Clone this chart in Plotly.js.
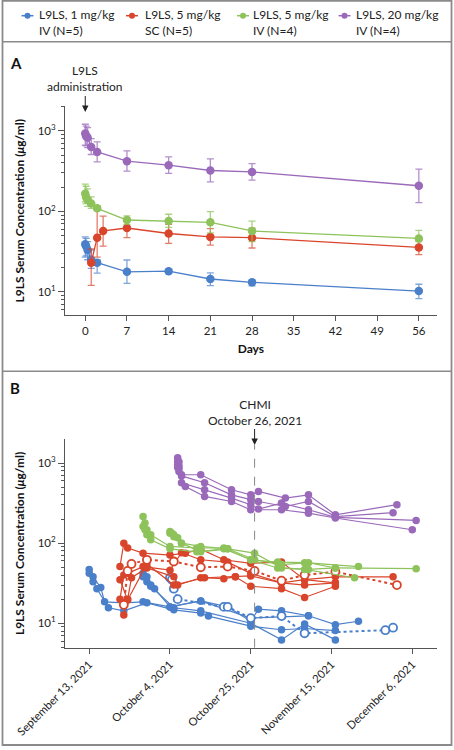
<!DOCTYPE html>
<html>
<head>
<meta charset="utf-8">
<script src="https://cdn.plot.ly/plotly-3.0.1.min.js"></script>
<style>
  html, body { margin: 0; padding: 0; background: #fff; }
  #chart { width: 454px; height: 750px; }
</style>
</head>
<body>
<div id="chart"></div>
<script>
// ---------------- Panel A: mean (range) by study day ----------------
const seriesNames = [
  'L9LS, 1 mg/kg<br>IV (N=5)',
  'L9LS, 5 mg/kg<br>SC (N=5)',
  'L9LS, 5 mg/kg<br>IV (N=4)',
  'L9LS, 20 mg/kg<br>IV (N=4)'
];
const dayTicks = [0, 7, 14, 21, 28, 35, 42, 49, 56];

const blueDays  = [0, 0.15, 0.4, 1, 2, 7, 14, 21, 28, 56];
const blueMean  = [39, 36.7, 33, 25, 23, 17.7, 18, 14.4, 13.1, 10.2];
const blueUpper = [48, 46, 42, 33, 24.8, 24.8, 19, 17.2, 14, 12.4];
const blueLower = [27, 28, 25, 19.5, 17, 12.7, 17, 11.9, 11.8, 8.2];

const redDays  = [1, 2, 3, 7, 14, 21, 28, 56];
const redMean  = [23, 47, 57, 62, 53, 48, 47, 35.6];
const redUpper = [34, 104, 87, 82, 69, 61, 62, 44];
const redLower = [12, 27, 37, 47, 40, 38, 35, 29];

const greenDays  = [0, 0.15, 0.4, 1, 2, 7, 14, 21, 28, 56];
const greenMean  = [165, 150, 138, 125, 109, 78, 76, 73, 57, 46];
const greenUpper = [218, 205, 190, 151, 116, 88, 92, 99, 75.5, 58];
const greenLower = [131, 125, 115, 109, 104, 69, 63, 54, 42, 42];

const purpleDays  = [0, 0.15, 0.4, 1, 2, 7, 14, 21, 28, 56];
const purpleMean  = [927, 860, 828, 630, 548, 421, 375, 322, 309, 208];
const purpleUpper = [1211, 1150, 1100, 804, 730, 565, 475, 449, 393, 334];
const purpleLower = [665, 650, 620, 509, 412, 316, 296, 232, 244, 128];

// ---------------- Panel B: individual participants by calendar date ----------------
const dateTicks = ['2021-09-13', '2021-10-04', '2021-10-25', '2021-11-15', '2021-12-06'];
const dateTickText = ['September 13, 2021', 'October 4, 2021', 'October 25, 2021', 'November 15, 2021', 'December 6, 2021'];
const chmiDate = '2021-10-26';

const b1Dates = ['2021-09-13', '2021-09-14', '2021-09-16', '2021-09-17', '2021-09-22', '2021-09-27', '2021-10-04', '2021-10-12', '2021-10-25', '2021-11-09'];
const b1Vals  = [47, 38, 28, 18.5, 18, 18.5, 16, 19, 11.6, 12.4];
const b2Dates = ['2021-09-13', '2021-09-14', '2021-09-15', '2021-09-18', '2021-09-22', '2021-09-28', '2021-10-05', '2021-10-12', '2021-10-14', '2021-10-25', '2021-11-02', '2021-11-08', '2021-11-16'];
const b2Vals  = [42, 33, 27, 15.6, 14.3, 18, 14.7, 13.4, 12.3, 9.2, 8.3, 8.6, 8.1];
const b3Dates = ['2021-09-27', '2021-09-28', '2021-09-29', '2021-09-30', '2021-10-04', '2021-10-12', '2021-10-19', '2021-10-25', '2021-10-27', '2021-11-02', '2021-11-09', '2021-11-16', '2021-11-22'];
const b3Vals  = [42, 38, 30, 27, 16, 19, 16, 10.6, 15, 14.3, 12.4, 9.6, 10.6];
const b4Dates = ['2021-09-27', '2021-09-28', '2021-09-29', '2021-10-05', '2021-10-12', '2021-10-25', '2021-11-02', '2021-11-08', '2021-11-16'];
const b4Vals  = [38, 33, 29, 15.6, 14.3, 10, 6.2, 9.8, 6.2];
const b5Dates = ['2021-10-04', '2021-10-04 12:00', '2021-10-05', '2021-10-06', '2021-10-18', '2021-10-19', '2021-10-25', '2021-11-02', '2021-11-08', '2021-11-29', '2021-12-01'];
const b5Vals  = [37, 35, 27, 20, 16, 16, 11.6, 12.3, 7.5, 8.2, 8.8];

const r1Dates = ['2021-09-21', '2021-09-22', '2021-09-23', '2021-09-27', '2021-10-04', '2021-10-08', '2021-10-12', '2021-10-18', '2021-10-25', '2021-11-02', '2021-11-08', '2021-11-16', '2021-12-01'];
const r1Vals  = [51, 100, 87, 75, 71, 75, 84, 62, 56, 58, 35, 38, 38];
const r2Dates = ['2021-09-21', '2021-09-22', '2021-09-23', '2021-09-27', '2021-10-04', '2021-10-07', '2021-10-12', '2021-10-19', '2021-10-25', '2021-11-02', '2021-11-08', '2021-11-16'];
const r2Vals  = [20, 40, 42, 51, 46, 76, 62, 58, 42, 32, 30, 32];
const r3Dates = ['2021-09-22', '2021-09-23', '2021-09-24', '2021-09-28', '2021-10-05', '2021-10-06', '2021-10-12', '2021-10-18', '2021-10-21', '2021-10-25', '2021-11-02', '2021-11-08', '2021-11-16'];
const r3Vals  = [12.7, 20, 37, 49, 38, 30, 37, 36, 38, 29, 27, 21, 29];
const r4Dates = ['2021-09-21', '2021-09-23', '2021-09-28', '2021-10-05', '2021-10-13', '2021-10-21', '2021-10-25', '2021-11-02', '2021-11-08', '2021-11-16'];
const r4Vals  = [35, 19.5, 55, 30, 37, 38, 39, 32, 35, 32];
const r5Dates = ['2021-09-22', '2021-09-23', '2021-09-24', '2021-09-28', '2021-10-05', '2021-10-12', '2021-10-19', '2021-10-26', '2021-11-02', '2021-11-08', '2021-11-16', '2021-12-02'];
const r5Vals  = [17, 45, 55, 62, 59, 50, 51, 45, 34, 40, 44, 30];

const g1Dates = ['2021-09-27', '2021-09-27 12:00', '2021-09-28', '2021-09-29', '2021-10-04', '2021-10-11', '2021-10-18', '2021-10-25', '2021-11-01', '2021-11-08', '2021-11-22'];
const g1Vals  = [215, 178, 147, 127, 91, 87, 87, 62, 58, 57, 51];
const g2Dates = ['2021-09-27', '2021-09-27 12:00', '2021-09-28', '2021-09-29', '2021-10-04', '2021-10-11', '2021-10-18', '2021-10-25', '2021-11-01', '2021-11-08', '2021-11-21'];
const g2Vals  = [161, 147, 127, 110, 85, 78, 85, 62, 49, 47, 37];
const g3Dates = ['2021-10-04', '2021-10-04 12:00', '2021-10-05', '2021-10-07', '2021-10-12', '2021-10-19', '2021-10-26', '2021-11-02', '2021-11-09', '2021-11-16', '2021-12-07'];
const g3Vals  = [140, 133, 120, 100, 91, 85, 62, 54, 57, 49, 48];
const g4Dates = ['2021-10-04', '2021-10-05', '2021-10-06', '2021-10-07', '2021-10-12', '2021-10-19', '2021-10-26', '2021-11-02', '2021-11-09', '2021-11-16'];
const g4Vals  = [133, 127, 117, 100, 78, 85, 75, 49, 47, 49];

const p1Dates = ['2021-10-06', '2021-10-06 08:00', '2021-10-07', '2021-10-12', '2021-10-20', '2021-10-25', '2021-10-27', '2021-11-03', '2021-11-09', '2021-11-16', '2021-12-02'];
const p1Vals  = [1165, 1040, 714, 714, 464, 401, 442, 365, 401, 226, 302];
const p2Dates = ['2021-10-06', '2021-10-06 08:00', '2021-10-07', '2021-10-13', '2021-10-20', '2021-10-25', '2021-10-27', '2021-11-03', '2021-11-09', '2021-11-16', '2021-12-01'];
const p2Vals  = [1040, 925, 690, 567, 401, 350, 331, 287, 331, 215, 240];
const p3Dates = ['2021-10-06', '2021-10-06 08:00', '2021-10-07', '2021-10-13', '2021-10-20', '2021-10-25', '2021-10-27', '2021-11-02', '2021-11-09', '2021-11-16', '2021-12-07'];
const p3Vals  = [960, 860, 567, 464, 365, 302, 266, 316, 261, 210, 192];
const p4Dates = ['2021-10-06', '2021-10-06 08:00', '2021-10-08', '2021-10-13', '2021-10-20', '2021-10-25', '2021-11-02', '2021-11-09', '2021-11-16', '2021-12-06'];
const p4Vals  = [880, 785, 510, 383, 331, 261, 261, 237, 206, 147];

// ---------------- styles ----------------
const KEYS = ['blue', 'red', 'green', 'purple'];
const COL = { blue: '#4a7fca', red: '#d9452b', green: '#8dc35a', purple: '#9a69ba' };
const ERRCOL = { blue: 'rgba(74,127,202,0.7)', red: 'rgba(217,69,43,0.7)', green: 'rgba(141,195,90,0.75)', purple: 'rgba(154,105,186,0.75)' };
const FONT = 'Lato, "Noto Sans", sans-serif';

function meanTrace(name, days, mean, upper, lower, key) {
  return {
    type: 'scatter', mode: 'lines+markers', name: name, showlegend: false,
    x: days, y: mean, xaxis: 'x', yaxis: 'y',
    line: { color: COL[key], width: 1.3 },
    marker: { color: COL[key], size: 8.5, line: { width: 0 } },
    error_y: {
      type: 'data', symmetric: false,
      array: upper.map((u, i) => u - mean[i]),
      arrayminus: mean.map((m, i) => m - lower[i]),
      color: ERRCOL[key], thickness: 1.3, width: 3.5
    },
    hoverinfo: 'skip'
  };
}

function personTrace(dates, vals, key, open) {
  return {
    type: 'scatter', mode: 'lines+markers', showlegend: false,
    x: dates, y: vals, xaxis: 'x2', yaxis: 'y2',
    line: { color: COL[key], width: open ? 2 : 1.2, dash: open ? 'dot' : 'solid' },
    marker: open
      ? { color: '#ffffff', size: 8, line: { color: COL[key], width: 1.8 } }
      : { color: COL[key], size: 7.5, line: { width: 0 } },
    hoverinfo: 'skip'
  };
}

const data = [
  meanTrace(seriesNames[0], blueDays, blueMean, blueUpper, blueLower, 'blue'),
  meanTrace(seriesNames[1], redDays, redMean, redUpper, redLower, 'red'),
  meanTrace(seriesNames[2], greenDays, greenMean, greenUpper, greenLower, 'green'),
  meanTrace(seriesNames[3], purpleDays, purpleMean, purpleUpper, purpleLower, 'purple'),

  personTrace(b1Dates, b1Vals, 'blue', false),
  personTrace(b2Dates, b2Vals, 'blue', false),
  personTrace(b3Dates, b3Vals, 'blue', false),
  personTrace(b4Dates, b4Vals, 'blue', false),
  personTrace(b5Dates, b5Vals, 'blue', true),
  personTrace(r1Dates, r1Vals, 'red', false),
  personTrace(r2Dates, r2Vals, 'red', false),
  personTrace(r3Dates, r3Vals, 'red', false),
  personTrace(r4Dates, r4Vals, 'red', false),
  personTrace(r5Dates, r5Vals, 'red', true),
  personTrace(g1Dates, g1Vals, 'green', false),
  personTrace(g2Dates, g2Vals, 'green', false),
  personTrace(g3Dates, g3Vals, 'green', false),
  personTrace(g4Dates, g4Vals, 'green', false),
  personTrace(p1Dates, p1Vals, 'purple', false),
  personTrace(p2Dates, p2Vals, 'purple', false),
  personTrace(p3Dates, p3Vals, 'purple', false),
  personTrace(p4Dates, p4Vals, 'purple', false)
];

// log-axis minor ticks (2..9 in each decade)
const minorVals = [];
[1, 10, 100, 1000].forEach(d => { for (let k = 2; k <= 9; k++) minorVals.push(k * d); });

const W = 454, H = 750;
const px = v => v / W;          // pixel -> paper x
const py = v => 1 - v / H;      // pixel -> paper y

const logAxisBase = {
  type: 'log',
  tickvals: [10, 100, 1000],
  ticktext: ['10<sup>1</sup>', '10<sup>2</sup>', '10<sup>3</sup>'],
  ticks: 'outside', ticklen: 6, tickwidth: 1, tickcolor: '#555',
  minor: { tickmode: 'array', tickvals: minorVals, ticks: 'outside', ticklen: 3, tickwidth: 1, tickcolor: '#555', showgrid: false },
  showline: true, linecolor: '#555', linewidth: 1,
  showgrid: false, zeroline: false,
  tickfont: { family: FONT, size: 11.5, color: '#222' },
  title: { text: 'L9LS Serum Concentration (<i>μ</i>g/ml)', font: { family: FONT, size: 12, color: '#111', weight: 'bold' }, standoff: 10 }
};

// ---- hand-built legend (key line + dot + two-line label) ----
const legendDotX  = [27.5, 132, 243, 344.5];
const legendTextX = [37, 142.5, 250.5, 354];
const legendShapes = [];
const legendAnn = [];
KEYS.forEach((k, i) => {
  legendShapes.push({ type: 'line', xref: 'paper', yref: 'paper',
    x0: px(legendDotX[i] - 6), x1: px(legendDotX[i] + 6), y0: py(15.7), y1: py(15.7),
    line: { color: COL[k], width: 1.5 } });
  legendShapes.push({ type: 'circle', xref: 'paper', yref: 'paper',
    x0: px(legendDotX[i] - 3), x1: px(legendDotX[i] + 3), y0: py(18.7), y1: py(12.7),
    fillcolor: COL[k], line: { width: 0 } });
  legendAnn.push({ text: seriesNames[i], xref: 'paper', yref: 'paper',
    x: px(legendTextX[i]), y: py(23), xanchor: 'left', yanchor: 'middle', align: 'left',
    showarrow: false, font: { family: FONT, size: 12, color: '#222' } });
});

const layout = {
  width: W, height: H,
  margin: { l: 0, r: 0, t: 0, b: 0 },
  paper_bgcolor: '#ffffff', plot_bgcolor: '#ffffff',
  font: { family: FONT, size: 12, color: '#222' },
  showlegend: false,
  xaxis: {
    domain: [px(65), px(436.7)], anchor: 'y',
    range: [-3.4, 59], tickvals: dayTicks,
    ticks: 'outside', ticklen: 5, tickwidth: 1, tickcolor: '#555',
    showline: true, linecolor: '#555', linewidth: 1,
    showgrid: false, zeroline: false,
    tickfont: { family: FONT, size: 11.5, color: '#222' },
    title: { text: 'Days', font: { family: FONT, size: 12, color: '#111', weight: 'bold' }, standoff: 8 }
  },
  yaxis: Object.assign({}, logAxisBase, { domain: [py(315.3), py(106)], anchor: 'x', range: [0.707, 3.31] }),
  xaxis2: {
    domain: [px(65), px(437.3)], anchor: 'y2', type: 'date',
    range: ['2021-09-06 17:00', '2021-12-12 12:00'],
    tickvals: dateTicks, ticktext: dateTickText, tickangle: -45,
    ticks: 'outside', ticklen: 5, tickwidth: 1, tickcolor: '#555',
    showline: true, linecolor: '#555', linewidth: 1,
    showgrid: false, zeroline: false,
    tickfont: { family: FONT, size: 11.2, color: '#222' }
  },
  yaxis2: Object.assign({}, logAxisBase, { domain: [py(647.7), py(439)], anchor: 'x2', range: [0.695, 3.30] }),
  shapes: [
    { type: 'rect', xref: 'paper', yref: 'paper', x0: px(2.5), x1: px(451.5), y0: py(745), y1: py(0.8), line: { color: '#8a8a8a', width: 1.8 } },
    { type: 'line', xref: 'paper', yref: 'paper', x0: px(2.5), x1: px(451.5), y0: py(41.7), y1: py(41.7), line: { color: '#8a8a8a', width: 1.5 } },
    { type: 'line', xref: 'paper', yref: 'paper', x0: px(2.5), x1: px(451.5), y0: py(371.3), y1: py(371.3), line: { color: '#8a8a8a', width: 1.5 } },
    { type: 'line', xref: 'x2', yref: 'paper', x0: chmiDate, x1: chmiDate, y0: py(647.7), y1: py(445), line: { color: '#888', width: 1, dash: 'dash' } }
  ].concat(legendShapes),
  annotations: [
    { text: '<b>A</b>', xref: 'paper', yref: 'paper', x: px(8), y: py(63), xanchor: 'left', yanchor: 'middle', showarrow: false, font: { family: FONT, size: 15, color: '#111' } },
    { text: '<b>B</b>', xref: 'paper', yref: 'paper', x: px(8), y: py(388), xanchor: 'left', yanchor: 'middle', showarrow: false, font: { family: FONT, size: 15, color: '#111' } },
    { text: 'L9LS<br>administration', xref: 'x', yref: 'paper', x: 0, y: py(112), ax: 0, ay: -33,
      showarrow: true, arrowhead: 2, arrowsize: 1.3, arrowwidth: 1, arrowcolor: '#222',
      font: { family: FONT, size: 12, color: '#222' } },
    { text: 'CHMI<br>October 26, 2021', xref: 'x2', yref: 'paper', x: chmiDate, y: py(445), ax: 0, ay: -33,
      showarrow: true, arrowhead: 2, arrowsize: 1.3, arrowwidth: 1, arrowcolor: '#222',
      font: { family: FONT, size: 12, color: '#222' } }
  ].concat(legendAnn)
};

Plotly.newPlot('chart', data, layout, { staticPlot: true, displayModeBar: false });
</script>
</body>
</html>
